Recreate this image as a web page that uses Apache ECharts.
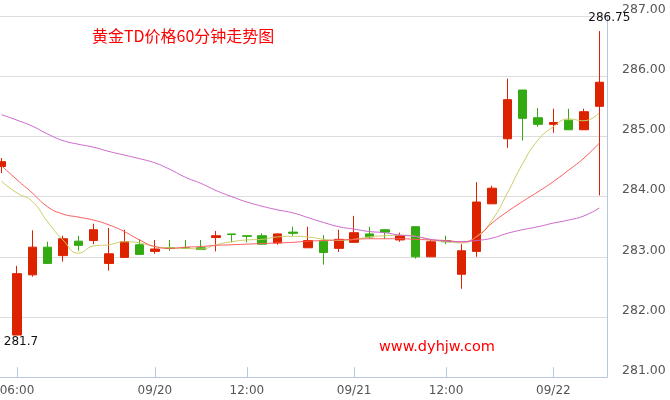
<!DOCTYPE html>
<html>
<head>
<meta charset="utf-8">
<style>html,body{margin:0;padding:0;background:#fff;overflow:hidden;}#c{width:676px;height:400px;margin-left:-6px;}</style>
<script src="https://cdn.jsdelivr.net/npm/echarts@6/dist/echarts.min.js"></script>
</head>
<body>
<div id="c"></div>
<script>
const categories = ['09/19 04:00','09/19 06:00','09/19 08:00','09/19 10:00','09/19 12:00','09/19 14:00','09/19 16:00','09/19 18:00','09/19 20:00','09/19 22:00',
'09/20 00:00','09/20 01:00','09/20 02:00','09/20 09:00','09/20 10:00','09/20 11:00','09/20 12:00','09/20 14:00','09/20 15:00','09/20 20:00',
'09/20 21:00','09/20 22:00','09/20 23:00','09/21 00:00','09/21 01:00','09/21 02:00','09/21 09:00','09/21 10:00','09/21 11:00','09/21 12:00',
'09/21 14:00','09/21 15:00','09/21 20:00','09/21 21:00','09/21 22:00','09/21 23:00','09/22 00:00','09/22 01:00','09/22 02:00','09/22 09:00'];
const labelIdx = [1, 10, 16, 23, 29, 36];

const open  = [284.50,281.70,282.70,283.16,283.02,283.26,283.27,282.89,282.99,283.20,283.09,283.15,283.15,283.15,283.32,283.38,283.35,283.35,283.23,283.41,283.15,283.26,283.14,283.24,283.38,283.45,283.28,283.50,283.00,283.27,282.71,283.09,283.88,284.96,285.77,285.31,285.20,285.27,285.11,285.50];
const close = [284.58,282.72,283.16,282.89,283.30,283.19,283.45,283.05,283.25,283.04,283.13,283.14,283.14,283.12,283.35,283.37,283.34,283.21,283.38,283.39,283.27,283.07,283.29,283.40,283.33,283.41,283.35,283.00,283.25,283.25,283.10,283.91,284.14,285.61,285.30,285.20,285.23,285.11,285.41,285.90];
const low   = [284.39,281.70,282.67,282.89,282.92,283.10,283.21,282.77,282.99,283.04,283.05,283.10,283.14,283.12,283.09,283.24,283.24,283.21,283.20,283.35,283.15,282.87,283.08,283.24,283.30,283.30,283.25,282.97,283.00,283.21,282.47,283.00,283.88,284.81,284.93,285.16,285.06,285.11,285.11,284.02];
const high  = [284.64,282.85,283.44,283.25,283.35,283.35,283.55,283.48,283.45,283.29,283.28,283.28,283.28,283.28,283.43,283.38,283.35,283.39,283.39,283.50,283.50,283.36,283.45,283.68,283.50,283.45,283.40,283.50,283.29,283.35,283.21,284.24,284.18,285.96,285.77,285.47,285.46,285.46,285.46,286.75];

const ma5  = [284.25,284.06,283.92,283.58,283.28,283.06,283.18,283.20,283.25,283.23,283.17,283.15,283.14,283.13,283.20,283.25,283.28,283.29,283.33,283.34,283.33,283.29,283.27,283.29,283.33,283.35,283.36,283.34,283.28,283.25,283.23,283.34,283.61,284.06,284.55,284.94,285.16,285.29,285.26,285.39];
const ma10 = [284.51,284.28,284.06,283.83,283.71,283.66,283.61,283.53,283.42,283.28,283.17,283.14,283.16,283.17,283.19,283.20,283.21,283.22,283.23,283.24,283.26,283.27,283.28,283.29,283.30,283.30,283.30,283.29,283.28,283.27,283.25,283.33,283.56,283.75,283.92,284.08,284.25,284.44,284.64,284.89];
const ma30 = [285.36,285.27,285.17,285.04,284.93,284.87,284.82,284.75,284.69,284.63,284.56,284.45,284.32,284.22,284.10,284.00,283.91,283.84,283.78,283.73,283.65,283.57,283.50,283.46,283.42,283.40,283.36,283.34,283.29,283.26,283.25,283.27,283.31,283.39,283.45,283.50,283.56,283.61,283.68,283.81];

const yMin = 281, yMax = 287, yStep = 1;
const titleText = '黄金TD价格60分钟走势图';
const siteText = 'www.dyhjw.com';

const kData = open.map((o, i) => [o, close[i], low[i], high[i]]);
const axisColor = '#b8c8dc';
const chart = echarts.init(document.getElementById('c'), null, {renderer: 'canvas'});
chart.setOption({
  animation: false,
  backgroundColor: '#fff',
  grid: {left: 0, right: 63, top: 16, bottom: 22.8},
  graphic: [
    {type: 'text', left: 98, top: 28, style: {text: titleText, fill: '#ff0000', font: '16px "Noto Sans CJK SC", sans-serif'}},
    {type: 'text', left: 385, top: 340, style: {text: siteText, fill: '#ff0000', font: '14.5px "DejaVu Sans", sans-serif'}}
  ],
  xAxis: {
    type: 'category',
    data: categories,
    boundaryGap: true,
    axisLine: {show: true, lineStyle: {color: axisColor}},
    axisTick: {show: true, inside: true, length: 10, alignWithLabel: true, interval: (i) => labelIdx.includes(i), lineStyle: {color: axisColor}},
    axisLabel: {
      interval: (i) => labelIdx.includes(i),
      formatter: (v) => v.endsWith(' 00:00') ? v.slice(0, 5) : v.slice(6),
      color: '#555', fontSize: 12, fontFamily: 'DejaVu Sans', margin: 8
    },
    splitLine: {show: false}
  },
  yAxis: {
    type: 'value',
    position: 'right',
    min: yMin, max: yMax, interval: yStep,
    axisLine: {show: true, lineStyle: {color: axisColor}},
    axisTick: {show: false},
    axisLabel: {
      formatter: (v) => v.toFixed(2),
      color: '#555', fontSize: 12.5, fontFamily: 'DejaVu Sans', margin: 15,
      verticalAlign: 'bottom'
    },
    splitLine: {show: true, lineStyle: {color: '#dddddd', width: 1}}
  },
  series: [
    {
      type: 'candlestick',
      data: kData,
      barWidth: 9,
      itemStyle: {color: '#dd2200', color0: '#33aa11', borderColor: '#dd2200', borderColor0: '#33aa11', borderWidth: 1},
      markPoint: {
        symbol: 'circle', symbolSize: 0,
        label: {show: true, position: 'inside', color: '#111', fontSize: 12, fontFamily: 'DejaVu Sans', formatter: (p) => String(p.value)},
        data: [
          {type: 'max', valueDim: 'highest', label: {offset: [10, -13.5]}},
          {type: 'min', valueDim: 'lowest', label: {offset: [4, 6.5]}}
        ]
      }
    },
    {type: 'line', data: ma5, smooth: true, symbol: 'none', lineStyle: {color: '#cccc66', width: 1}},
    {type: 'line', data: ma10, smooth: true, symbol: 'none', lineStyle: {color: '#ff5a5a', width: 1}},
    {type: 'line', data: ma30, smooth: true, symbol: 'none', lineStyle: {color: '#cc66cc', width: 1}}
  ]
});
</script>
</body>
</html>
